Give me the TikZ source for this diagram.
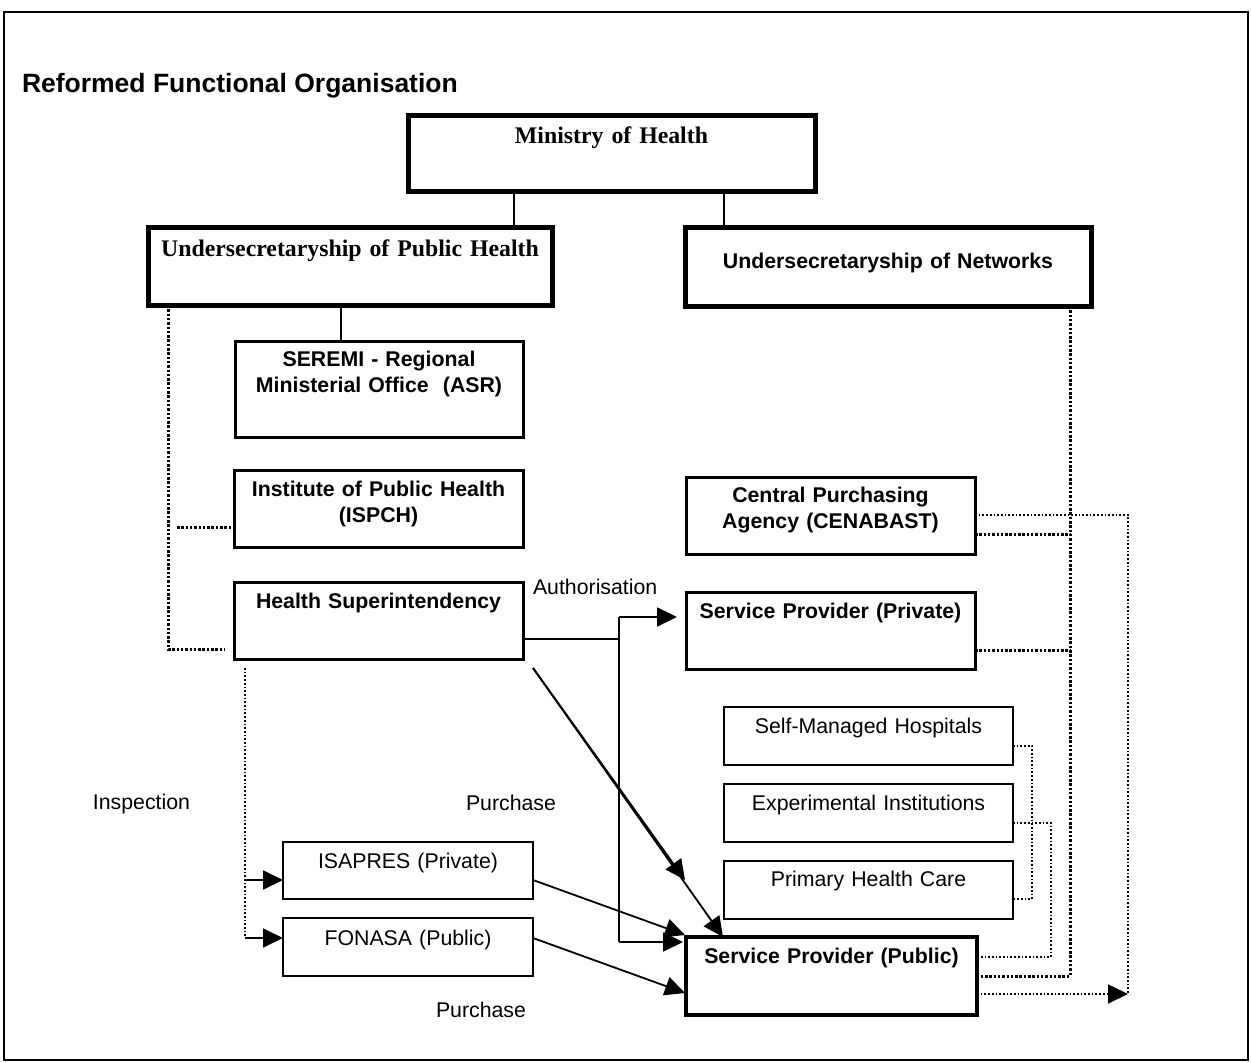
\documentclass[tikz,border=0pt]{standalone}
\usepackage{fontspec}
\setmainfont{Liberation Serif}
\newfontfamily\arialfont{Liberation Sans}
\usetikzlibrary{arrows.meta,calc}
\newcommand\timesB{\fontsize{23.8}{28}\selectfont\bfseries}
\newcommand\arialB{\arialfont\fontsize{21.3}{26}\selectfont\bfseries}
\newcommand\arialR{\arialfont\fontsize{21.3}{26}\selectfont}
\newcommand\arialT{\arialfont\fontsize{26.5}{30}\selectfont\bfseries}
\begin{document}
\begin{tikzpicture}[x=1pt,y=-1pt,
  box/.style={draw, inner sep=0pt, outer sep=0pt, anchor=north west, align=center},
  thickbox/.style={box, line width=5pt, font=\timesB},
  medbox/.style={box, line width=3pt, font=\arialB},
  thinbox/.style={box, line width=2pt, font=\arialR},
  conn/.style={line width=1.8pt},
  arr/.style={line width=1.8pt, -{Triangle[length=20pt,width=19pt]}},
  thickdot/.style={line width=3pt, dash pattern=on 2.5pt off 1.8pt},
  thindot/.style={line width=1.7pt, dash pattern=on 1.7pt off 2pt},
  lbl/.style={inner sep=0pt, outer sep=0pt, font=\arialR}]
\useasboundingbox (0,0) rectangle (1251,1063);
\draw[line width=2pt] (4,12) rectangle (1248,1060);

% title and free labels
\node[lbl, anchor=base west, font=\arialT] (title) at (22,92) {Reformed Functional Organisation};
\node[lbl, anchor=base west] (auth) at (533,594) {Authorisation};
\node[lbl, anchor=base east] (insp) at (190,809) {Inspection};
\node[lbl, anchor=base west] (pur1) at (466,810) {Purchase};
\node[lbl, anchor=base] (pur2) at (481,1017) {Purchase};

% boxes
\node[thickbox, text width=407pt, text height=28pt, text depth=48pt] (ministry) at (408,115) {Ministry of Health};
\node[thickbox, text width=404pt, text height=29pt, text depth=49pt] (ph) at (148,227) {Undersecretaryship of Public Health};
\node[thickbox, font=\arialB, text width=406pt, text height=41pt, text depth=38pt] (networks) at (685,227) {Undersecretaryship of Networks};
\node[medbox, text width=288pt, text height=25pt, text depth=71pt] (seremi) at (235,341) {SEREMI - Regional\\Ministerial Office\ \ (ASR)};
\node[medbox, text width=289pt, text height=26pt, text depth=51pt] (ispch) at (234,470) {Institute of Public Health\\(ISPCH)};
\node[medbox, text width=289pt, text height=26pt, text depth=51pt] (hs) at (234,582) {Health Superintendency};
\node[medbox, text width=289pt, text height=25pt, text depth=52pt] (cenabast) at (686,477) {Central Purchasing\\Agency (CENABAST)};
\node[medbox, text width=289pt, text height=26pt, text depth=51pt] (private) at (686,592) {Service Provider (Private)};
\node[thinbox, text width=289pt, text height=26pt, text depth=32pt] (selfm) at (724,707) {Self-Managed Hospitals};
\node[thinbox, text width=289pt, text height=26pt, text depth=32pt] (exper) at (724,784) {Experimental Institutions};
\node[thinbox, text width=289pt, text height=25pt, text depth=33pt] (primary) at (724,861) {Primary Health Care};
\node[medbox, line width=3.5pt, text width=291pt, text height=26pt, text depth=52pt] (public) at (686,937) {Service Provider (Public)};
\node[thinbox, text width=250pt, text height=26pt, text depth=31pt] (isapres) at (283,842) {ISAPRES (Private)};
\node[thinbox, text width=250pt, text height=27pt, text depth=31pt] (fonasa) at (283,918) {FONASA (Public)};

% guide coordinates
\coordinate (xm1) at (514,0);
\coordinate (xm2) at (724,0);
\coordinate (xph) at (341,0);
\coordinate (xd) at (168,0);
\coordinate (hsdot) at (225,649);
\coordinate (ispdot) at (177,527);
\coordinate (ja) at (619,617);
\coordinate (jb) at (619,942);
\coordinate (jc) at (619,639);
\coordinate (hsd) at (533,668);
\coordinate (tipa) at (685,880);
\coordinate (tipb) at (723,937);
\coordinate (yis) at (0,880);
\coordinate (yfo) at (0,938);
\coordinate (tipis) at (685,935);
\coordinate (tipfo) at (685,993);
\coordinate (insp0) at (245,668);
\coordinate (insp1) at (245,880);
\coordinate (insp2) at (245,938);
\coordinate (n1) at (1070,976);
\coordinate (n2) at (1070,534);
\coordinate (n3) at (1070,650);
\coordinate (c1) at (1128,515);
\coordinate (c3) at (1128,994);
\coordinate (s1) at (1032,746);
\coordinate (s2) at (1032,899);
\coordinate (e1) at (1051,823);
\coordinate (e2) at (1051,957);

% hierarchy lines
\draw[conn] (ministry.south -| xm1) -- (ph.north -| xm1);
\draw[conn] (ministry.south -| xm2) -- (networks.north -| xm2);
\draw[conn] (ph.south -| xph) -- (seremi.north -| xph);

% left dotted lines
\draw[thickdot] (ph.south -| xd) |- (hsdot);
\draw[thickdot] (ispdot) -- (ispch.west |- ispdot);

% authorisation
\draw[conn] (hs.east |- jc) -- (jc);
\draw[conn] (ja) -- (jb);
\draw[arr, shorten >=9pt] (ja) -- (private.west |- ja);
\draw[arr, shorten >=3pt] (jb) -- (public.west |- jb);

% diagonal arrows
\draw[arr] (hsd) -- (tipa);
\draw[arr] (hsd) -- (tipb);

% purchase
\draw[arr] (isapres.east |- yis) -- (tipis);
\draw[arr] (fonasa.east |- yfo) -- (tipfo);

% inspection
\draw[thindot] (insp0) -- (insp2);
\draw[arr] (insp1) -- (isapres.west |- insp1);
\draw[arr] (insp2) -- (fonasa.west |- insp2);

% right side dotted
\draw[thickdot] (networks.south -| n1) -- (n1) -- (public.east |- n1);
\draw[thickdot] (cenabast.east |- n2) -- (n2);
\draw[thickdot] (private.east |- n3) -- (n3);
\draw[thindot] (cenabast.east |- c1) -- (c1) -- (c3);
\draw[thindot, -{Triangle[length=20pt,width=19pt]}] (public.east |- c3) -- (c3);
\draw[thindot] (selfm.east |- s1) -- (s1) -- (s2) -- (primary.east |- s2);
\draw[thindot] (exper.east |- e1) -- (e1) -- (e2) -- (public.east |- e2);
\end{tikzpicture}
\end{document}
